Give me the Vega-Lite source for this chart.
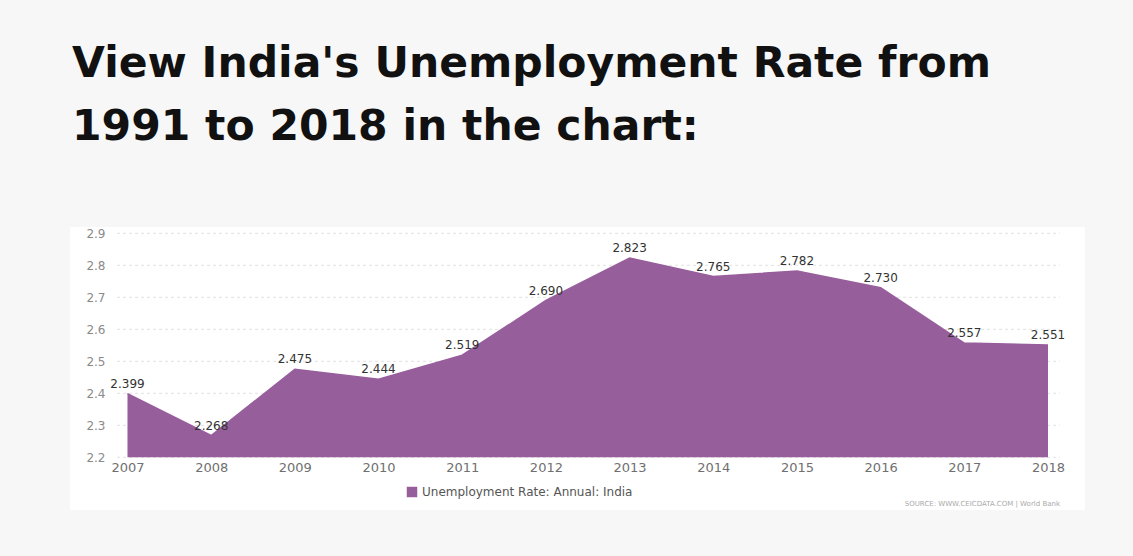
{
  "$schema": "https://vega.github.io/schema/vega-lite/v6.json",
  "width": 1015,
  "height": 283,
  "autosize": {"type": "none"},
  "padding": {"left": 70, "top": 227, "right": 48, "bottom": 46},
  "background": "#f7f7f7",
  "config": {"view": {"fill": "white", "stroke": null}, "font": "DejaVu Sans"},
  "title": {
    "text": ["View India's Unemployment Rate from", "1991 to 2018 in the chart:"],
    "anchor": "start",
    "frame": "group",
    "font": "DejaVu Sans",
    "fontSize": 42.5,
    "fontWeight": "bold",
    "color": "#111111",
    "lineHeight": 63,
    "offset": 79,
    "dx": 2
  },
  "datasets": {
    "rates": [
      {"year": 2007, "rate": 2.399, "series": "Unemployment Rate: Annual: India"},
      {"year": 2008, "rate": 2.268, "series": "Unemployment Rate: Annual: India"},
      {"year": 2009, "rate": 2.475, "series": "Unemployment Rate: Annual: India"},
      {"year": 2010, "rate": 2.444, "series": "Unemployment Rate: Annual: India"},
      {"year": 2011, "rate": 2.519, "series": "Unemployment Rate: Annual: India"},
      {"year": 2012, "rate": 2.690, "series": "Unemployment Rate: Annual: India"},
      {"year": 2013, "rate": 2.823, "series": "Unemployment Rate: Annual: India"},
      {"year": 2014, "rate": 2.765, "series": "Unemployment Rate: Annual: India"},
      {"year": 2015, "rate": 2.782, "series": "Unemployment Rate: Annual: India"},
      {"year": 2016, "rate": 2.730, "series": "Unemployment Rate: Annual: India"},
      {"year": 2017, "rate": 2.557, "series": "Unemployment Rate: Annual: India"},
      {"year": 2018, "rate": 2.551, "series": "Unemployment Rate: Annual: India"}
    ],
    "grid": [{"v": 2.2}, {"v": 2.3}, {"v": 2.4}, {"v": 2.5}, {"v": 2.6}, {"v": 2.7}, {"v": 2.8}, {"v": 2.9}],
    "source": [{"t": "SOURCE: WWW.CEICDATA.COM | World Bank"}]
  },
  "layer": [
    {
      "data": {"name": "grid"},
      "mark": {"type": "rule", "strokeDash": [3, 3], "color": "#e2e2e2", "strokeWidth": 1},
      "encoding": {
        "y": {"field": "v", "type": "quantitative", "scale": {"domain": [2.0353, 2.9197], "nice": false, "zero": false},
          "axis": {"values": [2.2, 2.3, 2.4, 2.5, 2.6, 2.7, 2.8, 2.9], "format": ".1f", "offset": -35, "domain": false, "ticks": false, "grid": false, "labelPadding": 0, "labelFontSize": 12, "labelColor": "#8a8a8a", "title": null}},
        "x": {"datum": 2006.875, "type": "quantitative", "scale": {"domain": [2006.313, 2018.442], "nice": false, "zero": false}},
        "x2": {"datum": 2018.143}
      }
    },
    {
      "data": {"name": "rates"},
      "mark": {"type": "area", "line": {"color": "#7b4a81", "strokeWidth": 1.5}, "opacity": 1},
      "encoding": {
        "x": {"field": "year", "type": "quantitative", "scale": {"domain": [2006.313, 2018.442], "nice": false, "zero": false},
          "axis": {"values": [2007, 2008, 2009, 2010, 2011, 2012, 2013, 2014, 2015, 2016, 2017, 2018], "format": "d", "offset": -52, "domain": false, "ticks": false, "grid": false, "labelPadding": 3, "labelFontSize": 13, "labelColor": "#707070", "title": null}},
        "y": {"field": "rate", "type": "quantitative", "scale": {"domain": [2.0353, 2.9197], "nice": false, "zero": false}},
        "y2": {"datum": 2.2},
        "color": {"field": "series", "type": "nominal", "scale": {"range": ["#975e9c"]},
          "legend": {"title": null, "orient": "none", "legendX": 336, "legendY": 259, "symbolType": "square", "symbolSize": 110, "symbolStrokeWidth": 0, "labelFontSize": 12, "labelColor": "#555555", "labelFont": "DejaVu Sans", "labelLimit": 400}}
      }
    },
    {
      "data": {"name": "rates"},
      "mark": {"type": "text", "dy": -10, "fontSize": 12, "color": "#333333", "font": "DejaVu Sans"},
      "encoding": {
        "x": {"field": "year", "type": "quantitative", "scale": {"domain": [2006.313, 2018.442], "nice": false, "zero": false}},
        "y": {"field": "rate", "type": "quantitative", "scale": {"domain": [2.0353, 2.9197], "nice": false, "zero": false}},
        "text": {"field": "rate", "type": "quantitative", "format": ".3f"}
      }
    },
    {
      "data": {"name": "source"},
      "mark": {"type": "text", "align": "right", "fontSize": 7, "color": "#aaaaaa"},
      "encoding": {
        "x": {"datum": 2018.143, "type": "quantitative", "scale": {"domain": [2006.313, 2018.442], "nice": false, "zero": false}},
        "y": {"datum": 2.054, "type": "quantitative", "scale": {"domain": [2.0353, 2.9197], "nice": false, "zero": false}},
        "text": {"field": "t"}
      }
    }
  ]
}
